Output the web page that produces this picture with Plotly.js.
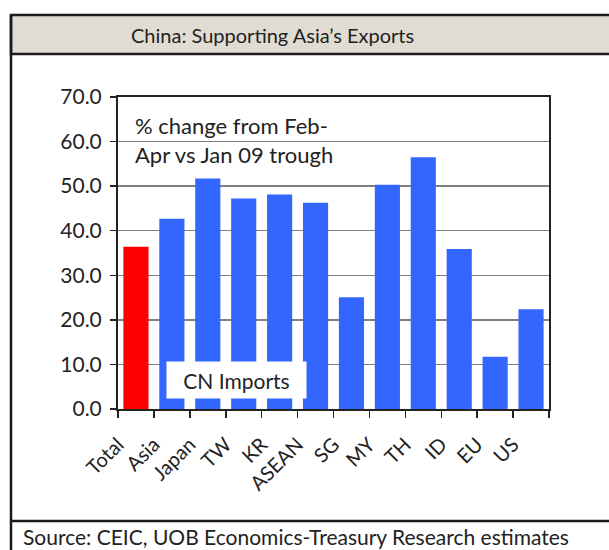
<!DOCTYPE html>
<html>
<head>
<meta charset="utf-8">
<script src="https://cdn.plot.ly/plotly-3.0.1.min.js"></script>
<style>html,body{margin:0;padding:0;background:#fff;}#chart{width:609px;height:550px;}</style>
</head>
<body>
<div id="chart"></div>
<script>
// Data
const categories = ["Total","Asia","Japan","TW","KR","ASEAN","SG","MY","TH","ID","EU","US"];
const values = [36.4, 42.7, 51.7, 47.2, 48.1, 46.3, 25.1, 50.3, 56.5, 35.9, 11.7, 22.4];
const barColors = ["#ff0000","#3366ff","#3366ff","#3366ff","#3366ff","#3366ff","#3366ff","#3366ff","#3366ff","#3366ff","#3366ff","#3366ff"];
const yTicks = [0,10,20,30,40,50,60,70];
const chartTitle = "China: Supporting Asia’s Exports";
const noteText = "% change from Feb-<br>Apr vs Jan 09 trough";
const seriesLabel = "CN Imports";
const sourceText = "Source: CEIC, UOB Economics-Treasury Research estimates";

// Layout geometry (pixels)
const W = 609, H = 550;
const L = 118, R = 549, T = 97, B = 409;
const pw = R - L, ph = B - T;
const px = x => (x - L) / pw;
const py = y => (B - y) / ph;
const FONT = "Lato, 'DejaVu Sans', sans-serif";

const trace = {
  type: "bar",
  x: categories,
  y: values,
  marker: {color: barColors, line: {width: 0}},
  hoverinfo: "x+y"
};

const frameLine = {color: "#1a1a1a", width: 2.5};
const shapes = [
  // title band
  {type: "rect", xref: "paper", yref: "paper", x0: px(11), x1: px(720), y0: py(54), y1: py(15),
   fillcolor: "#e1dcd3", line: frameLine, layer: "below"},
  // left frame line
  {type: "line", xref: "paper", yref: "paper", x0: px(11), x1: px(11), y0: py(15), y1: py(560), line: frameLine},
  // bottom separator
  {type: "line", xref: "paper", yref: "paper", x0: px(11), x1: px(720), y0: py(521), y1: py(521), line: frameLine}
];

const annotations = [
  {xref: "paper", yref: "paper", x: px(272), y: py(35), text: chartTitle, showarrow: false,
   xanchor: "center", yanchor: "middle", font: {family: FONT, size: 20, color: "#222"}},
  {xref: "paper", yref: "paper", x: px(133), y: py(140), text: noteText, showarrow: false,
   xanchor: "left", yanchor: "middle", align: "left", font: {family: FONT, size: 22, color: "#222"}},
  {xref: "paper", yref: "paper", x: px(236.5), y: py(380), text: seriesLabel, showarrow: false,
   xanchor: "center", yanchor: "middle", bgcolor: "#ffffff", borderpad: 0, width: 139, height: 36,
   font: {family: FONT, size: 21, color: "#222"}},
  {xref: "paper", yref: "paper", x: px(21), y: py(545), text: sourceText, showarrow: false,
   xanchor: "left", yanchor: "bottom", yshift: -6, font: {family: FONT, size: 21, color: "#222"}}
];

const layout = {
  width: W, height: H,
  margin: {l: L, r: W - R, t: T, b: H - B, pad: 0},
  paper_bgcolor: "#ffffff",
  plot_bgcolor: "#ffffff",
  showlegend: false,
  bargap: 0.3,
  font: {family: FONT, size: 20, color: "#222"},
  xaxis: {
    type: "category",
    tickson: "boundaries",
    ticks: "outside", ticklen: 7, tickwidth: 1.5, tickcolor: "#222",
    tickangle: -45,
    tickfont: {family: FONT, size: 20, color: "#222"},
    ticklabelshift: -18,
    ticklabelstandoff: 14,
    showline: true, linecolor: "#222", linewidth: 2, mirror: true,
    showgrid: false, fixedrange: true
  },
  yaxis: {
    range: [0, 70],
    tickvals: yTicks,
    tickformat: ".1f",
    ticks: "outside", ticklen: 6, tickwidth: 1.5, tickcolor: "#222",
    tickfont: {family: FONT, size: 21, color: "#222"},
    ticklabelstandoff: 4,
    showline: true, linecolor: "#222", linewidth: 2, mirror: true,
    showgrid: true, gridcolor: "#808080", gridwidth: 1.5,
    zeroline: false, fixedrange: true
  },
  shapes: shapes,
  annotations: annotations
};

Plotly.newPlot("chart", [trace], layout, {displayModeBar: false, staticPlot: true});
</script>
</body>
</html>
